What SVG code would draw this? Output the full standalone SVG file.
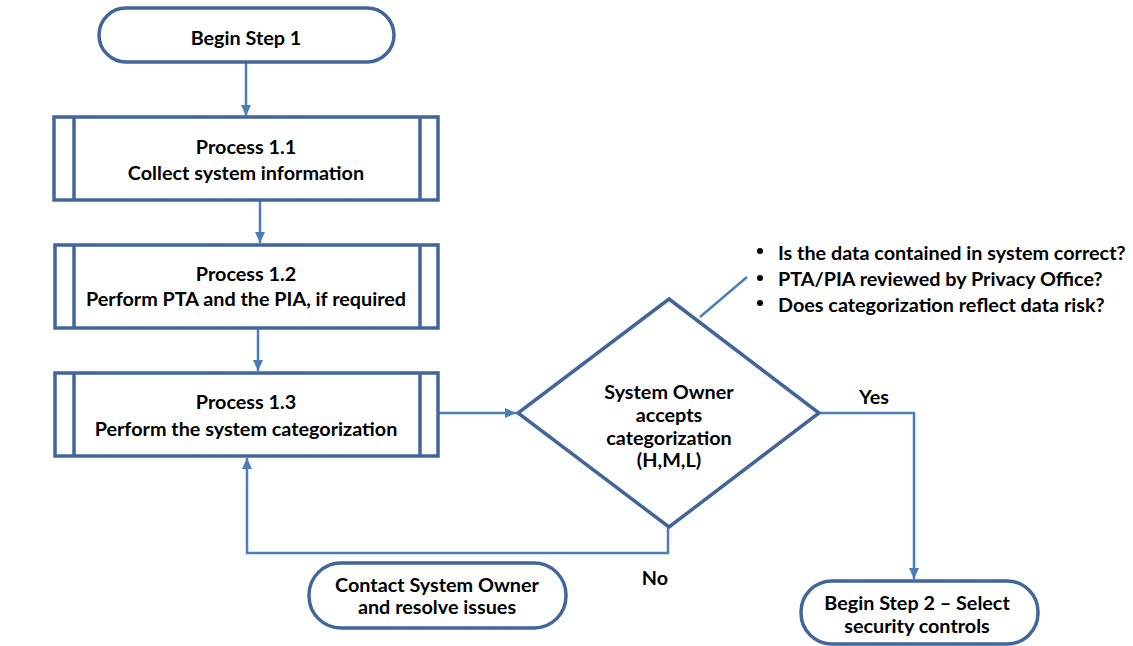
<svg xmlns="http://www.w3.org/2000/svg" width="1133" height="646" viewBox="0 0 1133 646">
<style>
.node{fill:#ffffff;stroke:#41669a;stroke-width:3.5}
.bar{fill:none;stroke:#41669a;stroke-width:3.5}
.t{font-family:Lato,"Liberation Sans",sans-serif;font-weight:bold;font-size:19.8px;fill:#000;text-anchor:middle;dominant-baseline:central}
.tl{font-family:Lato,"Liberation Sans",sans-serif;font-weight:bold;font-size:19.8px;fill:#000;dominant-baseline:central}
.c{fill:none;stroke:#4a7ebb;stroke-width:2.5}
</style>
<defs>
<marker id="ah" markerUnits="userSpaceOnUse" markerWidth="12" markerHeight="10" refX="11" refY="5" orient="auto">
<path d="M0,0 L11,5 L0,10 Z" fill="#4a7ebb"/>
</marker>
</defs>
<rect width="1133" height="646" fill="#ffffff"/>
<g id="connectors">
<line class="c" x1="246" y1="62" x2="246" y2="116" marker-end="url(#ah)"/>
<line class="c" x1="260" y1="200" x2="260" y2="243" marker-end="url(#ah)"/>
<line class="c" x1="258" y1="328" x2="258" y2="371" marker-end="url(#ah)"/>
<line class="c" x1="438" y1="413" x2="516" y2="413" marker-end="url(#ah)"/>
<polyline class="c" points="819,413 914,413 914,579" marker-end="url(#ah)"/>
<polyline class="c" points="668,527 668,553 247,553 247,458" marker-end="url(#ah)"/>
<line class="c" stroke-width="2" x1="700" y1="317" x2="747" y2="277"/>
</g>
<g id="begin1">
<rect class="node" x="99" y="8" width="295" height="54" rx="27"/>
<text class="t" x="246" y="37">Begin Step 1</text>
</g>
<g id="p11">
<rect class="node" x="54" y="117" width="384" height="83"/>
<line class="bar" x1="74" y1="117" x2="74" y2="200"/>
<line class="bar" x1="420" y1="117" x2="420" y2="200"/>
<text class="t" x="246" y="146">Process 1.1</text>
<text class="t" x="246" y="172">Collect system information</text>
</g>
<g id="p12">
<rect class="node" x="55" y="245" width="383" height="83"/>
<line class="bar" x1="74" y1="245" x2="74" y2="328"/>
<line class="bar" x1="420" y1="245" x2="420" y2="328"/>
<text class="t" x="246" y="273">Process 1.2</text>
<text class="t" x="246" y="298">Perform PTA and the PIA, if required</text>
</g>
<g id="p13">
<rect class="node" x="55" y="373" width="383" height="83"/>
<line class="bar" x1="74" y1="373" x2="74" y2="456"/>
<line class="bar" x1="420" y1="373" x2="420" y2="456"/>
<text class="t" x="246" y="401">Process 1.3</text>
<text class="t" x="246" y="428">Perform the system categorization</text>
</g>
<g id="decision">
<polygon class="node" points="669,299 819,413 669,527 518,413"/>
<text class="t" x="669" y="391">System Owner</text>
<text class="t" x="669" y="414">accepts</text>
<text class="t" x="669" y="437">categorization</text>
<text class="t" x="669" y="459">(H,M,L)</text>
</g>
<g id="notes">
<circle cx="760" cy="251" r="3" fill="#000"/>
<circle cx="760" cy="278" r="3" fill="#000"/>
<circle cx="760" cy="303" r="3" fill="#000"/>
<text class="tl" x="778" y="252">Is the data contained in system correct?</text>
<text class="tl" x="778" y="278">PTA/PIA reviewed by Privacy Office?</text>
<text class="tl" x="778" y="304">Does categorization reflect data risk?</text>
</g>
<g id="labels">
<text class="t" x="874" y="396">Yes</text>
<text class="t" x="655" y="577">No</text>
</g>
<g id="contact">
<rect class="node" x="309" y="563" width="257" height="65" rx="32"/>
<text class="t" x="437" y="584">Contact System Owner</text>
<text class="t" x="437" y="606">and resolve issues</text>
</g>
<g id="begin2">
<rect class="node" x="801" y="581" width="237" height="63" rx="31"/>
<text class="t" x="917" y="602">Begin Step 2 – Select</text>
<text class="t" x="917" y="625">security controls</text>
</g>
</svg>
